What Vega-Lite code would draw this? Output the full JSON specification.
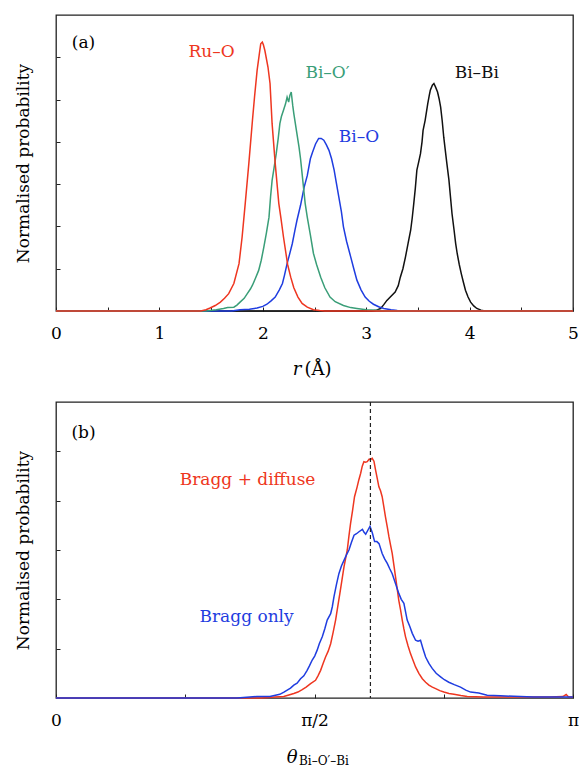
{
  "$schema": "https://vega.github.io/schema/vega-lite/v6.json",
  "padding": {"left": 13, "top": 14, "right": 6, "bottom": 0},
  "background": "white",
  "bounds": "flush",
  "spacing": 91,
  "resolve": {"scale": {"color": "independent"}},
  "config": {
    "font": "DejaVu Serif",
    "text": {"font": "DejaVu Serif"},
    "view": {"stroke": "#222222", "strokeWidth": 1.3},
    "axis": {"grid": false, "domain": false, "tickColor": "#222222", "labelColor": "black", "titleColor": "black", "titleFontWeight": "normal", "labelFont": "DejaVu Serif", "titleFont": "DejaVu Serif", "labelFontSize": 17, "titleFontSize": 17, "minExtent": 0}
  },
  "vconcat": [
    {
      "width": 517,
      "height": 296,
      "layer": [
        {
          "data": {"values": [
            {"pair":"Bi–Bi","r":0,"p":0},{"pair":"Bi–Bi","r":3.05,"p":0},{"pair":"Bi–Bi","r":3.10,"p":0.02},{"pair":"Bi–Bi","r":3.14,"p":0.06},{"pair":"Bi–Bi","r":3.17,"p":0.15},{"pair":"Bi–Bi","r":3.20,"p":0.25},{"pair":"Bi–Bi","r":3.24,"p":0.35},{"pair":"Bi–Bi","r":3.28,"p":0.45},{"pair":"Bi–Bi","r":3.31,"p":0.6},{"pair":"Bi–Bi","r":3.33,"p":0.80},{"pair":"Bi–Bi","r":3.355,"p":1.0},{"pair":"Bi–Bi","r":3.38,"p":1.28},{"pair":"Bi–Bi","r":3.405,"p":1.6},{"pair":"Bi–Bi","r":3.43,"p":1.91},{"pair":"Bi–Bi","r":3.445,"p":2.2},{"pair":"Bi–Bi","r":3.46,"p":2.54},{"pair":"Bi–Bi","r":3.475,"p":2.9},{"pair":"Bi–Bi","r":3.49,"p":3.33},{"pair":"Bi–Bi","r":3.51,"p":3.55},{"pair":"Bi–Bi","r":3.525,"p":3.72},{"pair":"Bi–Bi","r":3.54,"p":4.0},{"pair":"Bi–Bi","r":3.55,"p":4.27},{"pair":"Bi–Bi","r":3.57,"p":4.51},{"pair":"Bi–Bi","r":3.595,"p":4.90},{"pair":"Bi–Bi","r":3.61,"p":5.1},{"pair":"Bi–Bi","r":3.62,"p":5.22},{"pair":"Bi–Bi","r":3.64,"p":5.34},{"pair":"Bi–Bi","r":3.655,"p":5.38},{"pair":"Bi–Bi","r":3.67,"p":5.3},{"pair":"Bi–Bi","r":3.69,"p":5.18},{"pair":"Bi–Bi","r":3.705,"p":5.02},{"pair":"Bi–Bi","r":3.72,"p":4.82},{"pair":"Bi–Bi","r":3.735,"p":4.5},{"pair":"Bi–Bi","r":3.75,"p":4.11},{"pair":"Bi–Bi","r":3.765,"p":3.8},{"pair":"Bi–Bi","r":3.78,"p":3.49},{"pair":"Bi–Bi","r":3.80,"p":3.1},{"pair":"Bi–Bi","r":3.815,"p":2.70},{"pair":"Bi–Bi","r":3.83,"p":2.3},{"pair":"Bi–Bi","r":3.85,"p":1.91},{"pair":"Bi–Bi","r":3.865,"p":1.6},{"pair":"Bi–Bi","r":3.88,"p":1.36},{"pair":"Bi–Bi","r":3.90,"p":1.1},{"pair":"Bi–Bi","r":3.92,"p":0.88},{"pair":"Bi–Bi","r":3.94,"p":0.68},{"pair":"Bi–Bi","r":3.96,"p":0.49},{"pair":"Bi–Bi","r":3.985,"p":0.33},{"pair":"Bi–Bi","r":4.01,"p":0.21},{"pair":"Bi–Bi","r":4.04,"p":0.12},{"pair":"Bi–Bi","r":4.07,"p":0.06},{"pair":"Bi–Bi","r":4.11,"p":0.02},{"pair":"Bi–Bi","r":4.15,"p":0},{"pair":"Bi–Bi","r":5,"p":0},
            {"pair":"Bi–O","r":0,"p":0},{"pair":"Bi–O","r":1.7,"p":0},{"pair":"Bi–O","r":1.78,"p":0.03},{"pair":"Bi–O","r":1.87,"p":0.04},{"pair":"Bi–O","r":1.945,"p":0.07},{"pair":"Bi–O","r":2.0,"p":0.11},{"pair":"Bi–O","r":2.04,"p":0.16},{"pair":"Bi–O","r":2.08,"p":0.24},{"pair":"Bi–O","r":2.12,"p":0.33},{"pair":"Bi–O","r":2.16,"p":0.5},{"pair":"Bi–O","r":2.19,"p":0.65},{"pair":"Bi–O","r":2.21,"p":0.85},{"pair":"Bi–O","r":2.235,"p":1.12},{"pair":"Bi–O","r":2.26,"p":1.35},{"pair":"Bi–O","r":2.285,"p":1.59},{"pair":"Bi–O","r":2.31,"p":1.9},{"pair":"Bi–O","r":2.33,"p":2.14},{"pair":"Bi–O","r":2.365,"p":2.5},{"pair":"Bi–O","r":2.40,"p":2.93},{"pair":"Bi–O","r":2.43,"p":3.2},{"pair":"Bi–O","r":2.46,"p":3.6},{"pair":"Bi–O","r":2.48,"p":3.75},{"pair":"Bi–O","r":2.51,"p":3.95},{"pair":"Bi–O","r":2.54,"p":4.08},{"pair":"Bi–O","r":2.565,"p":4.08},{"pair":"Bi–O","r":2.59,"p":4.04},{"pair":"Bi–O","r":2.615,"p":3.93},{"pair":"Bi–O","r":2.64,"p":3.80},{"pair":"Bi–O","r":2.665,"p":3.6},{"pair":"Bi–O","r":2.69,"p":3.33},{"pair":"Bi–O","r":2.71,"p":3.05},{"pair":"Bi–O","r":2.735,"p":2.70},{"pair":"Bi–O","r":2.76,"p":2.35},{"pair":"Bi–O","r":2.78,"p":1.99},{"pair":"Bi–O","r":2.81,"p":1.65},{"pair":"Bi–O","r":2.85,"p":1.28},{"pair":"Bi–O","r":2.88,"p":1.0},{"pair":"Bi–O","r":2.91,"p":0.73},{"pair":"Bi–O","r":2.95,"p":0.5},{"pair":"Bi–O","r":2.99,"p":0.33},{"pair":"Bi–O","r":3.03,"p":0.23},{"pair":"Bi–O","r":3.07,"p":0.16},{"pair":"Bi–O","r":3.12,"p":0.1},{"pair":"Bi–O","r":3.17,"p":0.06},{"pair":"Bi–O","r":3.24,"p":0.03},{"pair":"Bi–O","r":3.30,"p":0.01},{"pair":"Bi–O","r":3.4,"p":0},{"pair":"Bi–O","r":5,"p":0},
            {"pair":"Bi–O′","r":0,"p":0},{"pair":"Bi–O′","r":1.45,"p":0},{"pair":"Bi–O′","r":1.55,"p":0.03},{"pair":"Bi–O′","r":1.62,"p":0.06},{"pair":"Bi–O′","r":1.66,"p":0.08},{"pair":"Bi–O′","r":1.72,"p":0.09},{"pair":"Bi–O′","r":1.75,"p":0.14},{"pair":"Bi–O′","r":1.78,"p":0.21},{"pair":"Bi–O′","r":1.82,"p":0.30},{"pair":"Bi–O′","r":1.85,"p":0.41},{"pair":"Bi–O′","r":1.88,"p":0.52},{"pair":"Bi–O′","r":1.90,"p":0.61},{"pair":"Bi–O′","r":1.93,"p":0.78},{"pair":"Bi–O′","r":1.96,"p":0.96},{"pair":"Bi–O′","r":1.985,"p":1.2},{"pair":"Bi–O′","r":2.01,"p":1.51},{"pair":"Bi–O′","r":2.035,"p":1.85},{"pair":"Bi–O′","r":2.06,"p":2.22},{"pair":"Bi–O′","r":2.075,"p":2.7},{"pair":"Bi–O′","r":2.09,"p":3.09},{"pair":"Bi–O′","r":2.11,"p":3.4},{"pair":"Bi–O′","r":2.13,"p":3.72},{"pair":"Bi–O′","r":2.15,"p":4.1},{"pair":"Bi–O′","r":2.165,"p":4.43},{"pair":"Bi–O′","r":2.18,"p":4.6},{"pair":"Bi–O′","r":2.20,"p":4.75},{"pair":"Bi–O′","r":2.22,"p":4.9},{"pair":"Bi–O′","r":2.235,"p":5.06},{"pair":"Bi–O′","r":2.25,"p":4.94},{"pair":"Bi–O′","r":2.262,"p":5.1},{"pair":"Bi–O′","r":2.275,"p":5.18},{"pair":"Bi–O′","r":2.29,"p":4.85},{"pair":"Bi–O′","r":2.30,"p":4.67},{"pair":"Bi–O′","r":2.325,"p":4.27},{"pair":"Bi–O′","r":2.35,"p":3.88},{"pair":"Bi–O′","r":2.365,"p":3.6},{"pair":"Bi–O′","r":2.38,"p":3.25},{"pair":"Bi–O′","r":2.41,"p":2.54},{"pair":"Bi–O′","r":2.43,"p":2.22},{"pair":"Bi–O′","r":2.46,"p":1.8},{"pair":"Bi–O′","r":2.49,"p":1.36},{"pair":"Bi–O′","r":2.52,"p":1.1},{"pair":"Bi–O′","r":2.56,"p":0.80},{"pair":"Bi–O′","r":2.60,"p":0.55},{"pair":"Bi–O′","r":2.65,"p":0.33},{"pair":"Bi–O′","r":2.70,"p":0.22},{"pair":"Bi–O′","r":2.78,"p":0.13},{"pair":"Bi–O′","r":2.85,"p":0.08},{"pair":"Bi–O′","r":2.91,"p":0.06},{"pair":"Bi–O′","r":3.0,"p":0.03},{"pair":"Bi–O′","r":3.1,"p":0.02},{"pair":"Bi–O′","r":3.2,"p":0},{"pair":"Bi–O′","r":5,"p":0},
            {"pair":"Ru–O","r":0,"p":0},{"pair":"Ru–O","r":1.40,"p":0},{"pair":"Ru–O","r":1.45,"p":0.03},{"pair":"Ru–O","r":1.49,"p":0.07},{"pair":"Ru–O","r":1.54,"p":0.13},{"pair":"Ru–O","r":1.59,"p":0.21},{"pair":"Ru–O","r":1.63,"p":0.30},{"pair":"Ru–O","r":1.67,"p":0.41},{"pair":"Ru–O","r":1.72,"p":0.65},{"pair":"Ru–O","r":1.77,"p":1.12},{"pair":"Ru–O","r":1.80,"p":1.75},{"pair":"Ru–O","r":1.83,"p":2.54},{"pair":"Ru–O","r":1.865,"p":3.49},{"pair":"Ru–O","r":1.90,"p":4.51},{"pair":"Ru–O","r":1.92,"p":5.06},{"pair":"Ru–O","r":1.945,"p":5.69},{"pair":"Ru–O","r":1.965,"p":6.05},{"pair":"Ru–O","r":1.98,"p":6.32},{"pair":"Ru–O","r":1.995,"p":6.36},{"pair":"Ru–O","r":2.005,"p":6.30},{"pair":"Ru–O","r":2.02,"p":6.16},{"pair":"Ru–O","r":2.05,"p":5.77},{"pair":"Ru–O","r":2.07,"p":5.38},{"pair":"Ru–O","r":2.09,"p":4.43},{"pair":"Ru–O","r":2.12,"p":3.49},{"pair":"Ru–O","r":2.155,"p":2.54},{"pair":"Ru–O","r":2.175,"p":2.2},{"pair":"Ru–O","r":2.20,"p":1.75},{"pair":"Ru–O","r":2.24,"p":1.1},{"pair":"Ru–O","r":2.27,"p":0.8},{"pair":"Ru–O","r":2.30,"p":0.55},{"pair":"Ru–O","r":2.34,"p":0.33},{"pair":"Ru–O","r":2.38,"p":0.18},{"pair":"Ru–O","r":2.43,"p":0.09},{"pair":"Ru–O","r":2.49,"p":0.03},{"pair":"Ru–O","r":2.55,"p":0.01},{"pair":"Ru–O","r":2.6,"p":0},{"pair":"Ru–O","r":5,"p":0}
          ]},
          "mark": {"type": "line", "strokeWidth": 1.5},
          "encoding": {
            "x": {"field": "r", "type": "quantitative", "scale": {"domain": [0, 5], "nice": false, "zero": false},
              "axis": {"title": null, "values": [0,0.5,1,1.5,2,2.5,3,3.5,4,4.5,5], "labelExpr": "datum.value % 1 === 0 ? '' + datum.value : ''", "labelPadding": 18, "labelFlush": false, "labelOverlap": false, "tickSize": -4}},
            "y": {"field": "p", "type": "quantitative", "scale": {"domain": [0, 7], "nice": false},
              "axis": {"title": "Normalised probability", "labels": false, "values": [1,2,3,4,5,6], "tickSize": -4, "titlePadding": 23}},
            "color": {"field": "pair", "type": "nominal", "scale": {"domain": ["Bi–Bi","Bi–O","Bi–O′","Ru–O"], "range": ["#111111","#1f3de0","#3a9e78","#ee3620"]}, "legend": null}
          }
        },
        {
          "data": {"values": [
            {"pair":"Ru–O","r":1.504,"p":6.12},
            {"pair":"Bi–O′","r":2.626,"p":5.62},
            {"pair":"Bi–O","r":2.93,"p":4.11},
            {"pair":"Bi–Bi","r":4.07,"p":5.62}
          ]},
          "mark": {"type": "text", "fontSize": 17, "baseline": "middle", "align": "center"},
          "encoding": {
            "x": {"field": "r", "type": "quantitative"},
            "y": {"field": "p", "type": "quantitative"},
            "text": {"field": "pair"},
            "color": {"field": "pair", "type": "nominal", "legend": null}
          }
        },
        {
          "data": {"values": [{"tag": "(a)", "r": 0.266, "p": 6.33}]},
          "mark": {"type": "text", "fontSize": 17, "baseline": "middle", "align": "center", "color": "black"},
          "encoding": {"x": {"field": "r", "type": "quantitative"}, "y": {"field": "p", "type": "quantitative"}, "text": {"field": "tag"}}
        },
        {
          "data": {"values": [{"t": "r", "r": 2.374, "p": -1.40}]},
          "mark": {"type": "text", "fontSize": 18, "fontStyle": "italic", "baseline": "middle", "align": "right", "color": "black"},
          "encoding": {"x": {"field": "r", "type": "quantitative"}, "y": {"field": "p", "type": "quantitative"}, "text": {"field": "t"}}
        },
        {
          "data": {"values": [{"t": "(Å)", "r": 2.403, "p": -1.40}]},
          "mark": {"type": "text", "fontSize": 18, "baseline": "middle", "align": "left", "color": "black"},
          "encoding": {"x": {"field": "r", "type": "quantitative"}, "y": {"field": "p", "type": "quantitative"}, "text": {"field": "t"}}
        }
      ]
    },
    {
      "width": 517,
      "height": 296,
      "layer": [
        {
          "data": {"values": [
            {"s":"Bragg + diffuse","t":0,"p":0},{"s":"Bragg + diffuse","t":1.25,"p":0},{"s":"Bragg + diffuse","t":1.33,"p":0.02},{"s":"Bragg + diffuse","t":1.384,"p":0.03},{"s":"Bragg + diffuse","t":1.415,"p":0.06},{"s":"Bragg + diffuse","t":1.445,"p":0.09},{"s":"Bragg + diffuse","t":1.47,"p":0.12},{"s":"Bragg + diffuse","t":1.496,"p":0.17},{"s":"Bragg + diffuse","t":1.52,"p":0.22},{"s":"Bragg + diffuse","t":1.547,"p":0.29},{"s":"Bragg + diffuse","t":1.577,"p":0.36},{"s":"Bragg + diffuse","t":1.592,"p":0.45},{"s":"Bragg + diffuse","t":1.608,"p":0.56},{"s":"Bragg + diffuse","t":1.623,"p":0.7},{"s":"Bragg + diffuse","t":1.638,"p":0.83},{"s":"Bragg + diffuse","t":1.654,"p":0.95},{"s":"Bragg + diffuse","t":1.669,"p":1.10},{"s":"Bragg + diffuse","t":1.684,"p":1.33},{"s":"Bragg + diffuse","t":1.699,"p":1.58},{"s":"Bragg + diffuse","t":1.712,"p":1.85},{"s":"Bragg + diffuse","t":1.725,"p":2.12},{"s":"Bragg + diffuse","t":1.738,"p":2.4},{"s":"Bragg + diffuse","t":1.750,"p":2.66},{"s":"Bragg + diffuse","t":1.760,"p":2.83},{"s":"Bragg + diffuse","t":1.770,"p":3.00},{"s":"Bragg + diffuse","t":1.780,"p":3.28},{"s":"Bragg + diffuse","t":1.790,"p":3.54},{"s":"Bragg + diffuse","t":1.802,"p":3.8},{"s":"Bragg + diffuse","t":1.814,"p":4.08},{"s":"Bragg + diffuse","t":1.830,"p":4.28},{"s":"Bragg + diffuse","t":1.840,"p":4.42},{"s":"Bragg + diffuse","t":1.851,"p":4.55},{"s":"Bragg + diffuse","t":1.861,"p":4.7},{"s":"Bragg + diffuse","t":1.871,"p":4.79},{"s":"Bragg + diffuse","t":1.881,"p":4.78},{"s":"Bragg + diffuse","t":1.891,"p":4.79},{"s":"Bragg + diffuse","t":1.903,"p":4.84},{"s":"Bragg + diffuse","t":1.912,"p":4.83},{"s":"Bragg + diffuse","t":1.921,"p":4.86},{"s":"Bragg + diffuse","t":1.932,"p":4.8},{"s":"Bragg + diffuse","t":1.942,"p":4.62},{"s":"Bragg + diffuse","t":1.952,"p":4.45},{"s":"Bragg + diffuse","t":1.962,"p":4.28},{"s":"Bragg + diffuse","t":1.972,"p":4.2},{"s":"Bragg + diffuse","t":1.982,"p":4.08},{"s":"Bragg + diffuse","t":1.992,"p":3.88},{"s":"Bragg + diffuse","t":2.002,"p":3.67},{"s":"Bragg + diffuse","t":2.013,"p":3.47},{"s":"Bragg + diffuse","t":2.023,"p":3.27},{"s":"Bragg + diffuse","t":2.033,"p":3.1},{"s":"Bragg + diffuse","t":2.043,"p":2.93},{"s":"Bragg + diffuse","t":2.053,"p":2.7},{"s":"Bragg + diffuse","t":2.063,"p":2.46},{"s":"Bragg + diffuse","t":2.073,"p":2.22},{"s":"Bragg + diffuse","t":2.083,"p":1.98},{"s":"Bragg + diffuse","t":2.094,"p":1.78},{"s":"Bragg + diffuse","t":2.104,"p":1.58},{"s":"Bragg + diffuse","t":2.114,"p":1.4},{"s":"Bragg + diffuse","t":2.124,"p":1.24},{"s":"Bragg + diffuse","t":2.139,"p":1.06},{"s":"Bragg + diffuse","t":2.154,"p":0.90},{"s":"Bragg + diffuse","t":2.17,"p":0.76},{"s":"Bragg + diffuse","t":2.185,"p":0.63},{"s":"Bragg + diffuse","t":2.205,"p":0.5},{"s":"Bragg + diffuse","t":2.226,"p":0.39},{"s":"Bragg + diffuse","t":2.246,"p":0.32},{"s":"Bragg + diffuse","t":2.266,"p":0.26},{"s":"Bragg + diffuse","t":2.287,"p":0.22},{"s":"Bragg + diffuse","t":2.307,"p":0.19},{"s":"Bragg + diffuse","t":2.332,"p":0.15},{"s":"Bragg + diffuse","t":2.357,"p":0.12},{"s":"Bragg + diffuse","t":2.388,"p":0.09},{"s":"Bragg + diffuse","t":2.418,"p":0.075},{"s":"Bragg + diffuse","t":2.46,"p":0.05},{"s":"Bragg + diffuse","t":2.499,"p":0.03},{"s":"Bragg + diffuse","t":2.6,"p":0.02},{"s":"Bragg + diffuse","t":2.8,"p":0.02},{"s":"Bragg + diffuse","t":3.0,"p":0.02},{"s":"Bragg + diffuse","t":3.08,"p":0.03},{"s":"Bragg + diffuse","t":3.10,"p":0.07},{"s":"Bragg + diffuse","t":3.115,"p":0.02},{"s":"Bragg + diffuse","t":3.1415926,"p":0.02},
            {"s":"Bragg only","t":0,"p":0},{"s":"Bragg only","t":1.10,"p":0},{"s":"Bragg only","t":1.22,"p":0.03},{"s":"Bragg only","t":1.30,"p":0.03},{"s":"Bragg only","t":1.36,"p":0.075},{"s":"Bragg only","t":1.385,"p":0.12},{"s":"Bragg only","t":1.405,"p":0.16},{"s":"Bragg only","t":1.425,"p":0.2},{"s":"Bragg only","t":1.445,"p":0.26},{"s":"Bragg only","t":1.465,"p":0.3},{"s":"Bragg only","t":1.486,"p":0.39},{"s":"Bragg only","t":1.506,"p":0.45},{"s":"Bragg only","t":1.526,"p":0.56},{"s":"Bragg only","t":1.54,"p":0.65},{"s":"Bragg only","t":1.557,"p":0.77},{"s":"Bragg only","t":1.572,"p":0.85},{"s":"Bragg only","t":1.587,"p":0.97},{"s":"Bragg only","t":1.60,"p":1.1},{"s":"Bragg only","t":1.618,"p":1.24},{"s":"Bragg only","t":1.633,"p":1.4},{"s":"Bragg only","t":1.648,"p":1.58},{"s":"Bragg only","t":1.669,"p":1.71},{"s":"Bragg only","t":1.679,"p":1.85},{"s":"Bragg only","t":1.689,"p":2.05},{"s":"Bragg only","t":1.704,"p":2.3},{"s":"Bragg only","t":1.719,"p":2.52},{"s":"Bragg only","t":1.735,"p":2.68},{"s":"Bragg only","t":1.750,"p":2.79},{"s":"Bragg only","t":1.765,"p":2.9},{"s":"Bragg only","t":1.780,"p":3.00},{"s":"Bragg only","t":1.795,"p":3.15},{"s":"Bragg only","t":1.811,"p":3.30},{"s":"Bragg only","t":1.826,"p":3.33},{"s":"Bragg only","t":1.841,"p":3.37},{"s":"Bragg only","t":1.862,"p":3.42},{"s":"Bragg only","t":1.872,"p":3.36},{"s":"Bragg only","t":1.882,"p":3.32},{"s":"Bragg only","t":1.895,"p":3.40},{"s":"Bragg only","t":1.908,"p":3.48},{"s":"Bragg only","t":1.922,"p":3.35},{"s":"Bragg only","t":1.936,"p":3.17},{"s":"Bragg only","t":1.950,"p":3.17},{"s":"Bragg only","t":1.963,"p":3.13},{"s":"Bragg only","t":1.982,"p":2.93},{"s":"Bragg only","t":1.997,"p":2.82},{"s":"Bragg only","t":2.013,"p":2.73},{"s":"Bragg only","t":2.028,"p":2.62},{"s":"Bragg only","t":2.043,"p":2.52},{"s":"Bragg only","t":2.063,"p":2.32},{"s":"Bragg only","t":2.083,"p":2.12},{"s":"Bragg only","t":2.098,"p":2.0},{"s":"Bragg only","t":2.114,"p":1.92},{"s":"Bragg only","t":2.134,"p":1.58},{"s":"Bragg only","t":2.15,"p":1.45},{"s":"Bragg only","t":2.165,"p":1.31},{"s":"Bragg only","t":2.185,"p":1.17},{"s":"Bragg only","t":2.20,"p":1.15},{"s":"Bragg only","t":2.215,"p":1.17},{"s":"Bragg only","t":2.23,"p":1.0},{"s":"Bragg only","t":2.246,"p":0.83},{"s":"Bragg only","t":2.266,"p":0.7},{"s":"Bragg only","t":2.286,"p":0.60},{"s":"Bragg only","t":2.31,"p":0.5},{"s":"Bragg only","t":2.337,"p":0.43},{"s":"Bragg only","t":2.36,"p":0.37},{"s":"Bragg only","t":2.387,"p":0.32},{"s":"Bragg only","t":2.42,"p":0.27},{"s":"Bragg only","t":2.458,"p":0.22},{"s":"Bragg only","t":2.49,"p":0.16},{"s":"Bragg only","t":2.519,"p":0.12},{"s":"Bragg only","t":2.569,"p":0.10},{"s":"Bragg only","t":2.62,"p":0.055},{"s":"Bragg only","t":2.70,"p":0.045},{"s":"Bragg only","t":2.782,"p":0.035},{"s":"Bragg only","t":2.9,"p":0.02},{"s":"Bragg only","t":3.0,"p":0.02},{"s":"Bragg only","t":3.1415926,"p":0.02}
          ]},
          "mark": {"type": "line", "strokeWidth": 1.5},
          "encoding": {
            "x": {"field": "t", "type": "quantitative", "scale": {"domain": [0, 3.1415926], "nice": false, "zero": false},
              "axis": {"title": null, "values": [0, 0.78539815, 1.5707963, 2.35619445, 3.1415926], "labelExpr": "abs(datum.value) < 0.01 ? '0' : abs(datum.value - PI/2) < 0.01 ? 'π/2' : abs(datum.value - PI) < 0.01 ? 'π' : ''", "labelPadding": 18, "labelFlush": false, "labelOverlap": false, "tickSize": -4}},
            "y": {"field": "p", "type": "quantitative", "scale": {"domain": [0, 6], "nice": false},
              "axis": {"title": "Normalised probability", "labels": false, "values": [1,2,3,4,5], "tickSize": -4, "titlePadding": 23}},
            "color": {"field": "s", "type": "nominal", "scale": {"domain": ["Bragg + diffuse","Bragg only"], "range": ["#ee3620","#1f3de0"]}, "legend": null}
          }
        },
        {
          "data": {"values": [{"angle": 1.9106}]},
          "mark": {"type": "rule", "color": "#222222", "strokeWidth": 1.2, "strokeDash": [4, 3]},
          "encoding": {"x": {"field": "angle", "type": "quantitative"}}
        },
        {
          "data": {"values": [
            {"s":"Bragg + diffuse","t":1.164,"p":4.42},
            {"s":"Bragg only","t":1.158,"p":1.64}
          ]},
          "mark": {"type": "text", "fontSize": 17, "baseline": "middle", "align": "center"},
          "encoding": {
            "x": {"field": "t", "type": "quantitative"},
            "y": {"field": "p", "type": "quantitative"},
            "text": {"field": "s"},
            "color": {"field": "s", "type": "nominal", "legend": null}
          }
        },
        {
          "data": {"values": [{"tag": "(b)", "t": 0.167, "p": 5.37}]},
          "mark": {"type": "text", "fontSize": 17, "baseline": "middle", "align": "center", "color": "black"},
          "encoding": {"x": {"field": "t", "type": "quantitative"}, "y": {"field": "p", "type": "quantitative"}, "text": {"field": "tag"}}
        },
        {
          "data": {"values": [{"tx": "θ", "t": 1.4675, "p": -1.31}]},
          "mark": {"type": "text", "fontSize": 18, "fontStyle": "italic", "baseline": "alphabetic", "align": "right", "color": "black"},
          "encoding": {"x": {"field": "t", "type": "quantitative"}, "y": {"field": "p", "type": "quantitative"}, "text": {"field": "tx"}}
        },
        {
          "data": {"values": [{"tx": "Bi–O′–Bi", "t": 1.4766, "p": -1.35}]},
          "mark": {"type": "text", "fontSize": 12, "baseline": "alphabetic", "align": "left", "color": "black"},
          "encoding": {"x": {"field": "t", "type": "quantitative"}, "y": {"field": "p", "type": "quantitative"}, "text": {"field": "tx"}}
        }
      ]
    }
  ]
}
